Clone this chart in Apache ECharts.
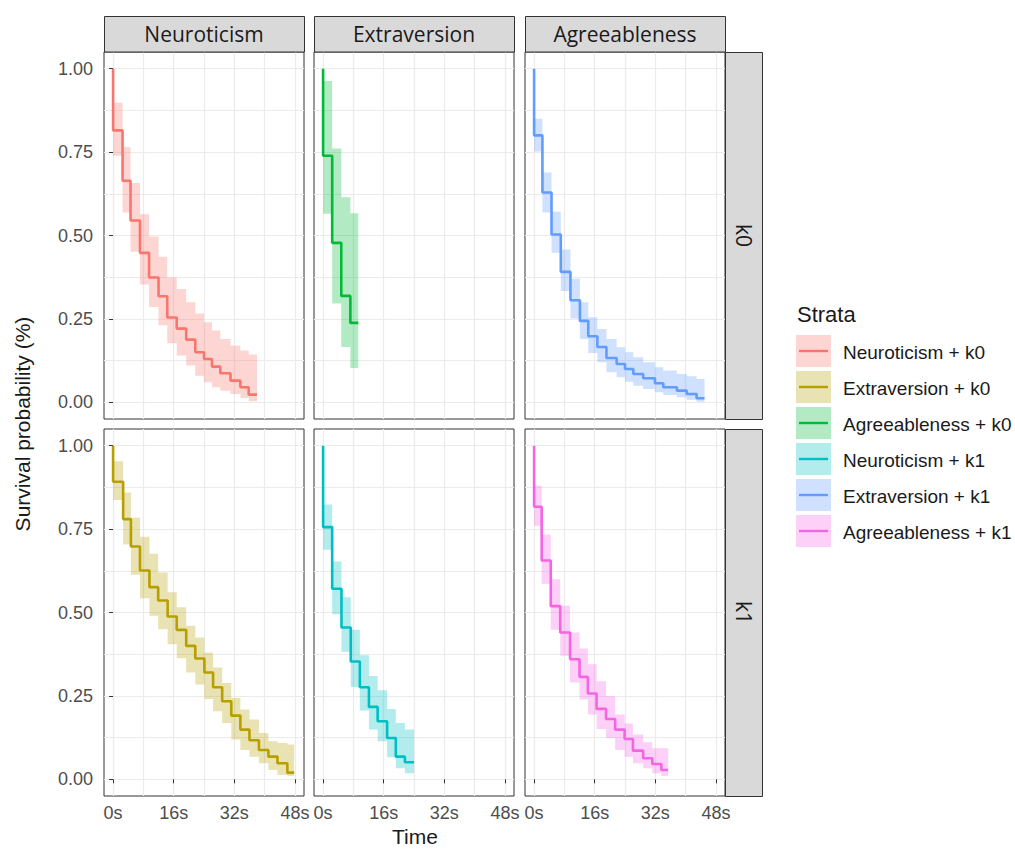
<!DOCTYPE html>
<html><head><meta charset="utf-8">
<script src="https://cdn.jsdelivr.net/npm/echarts@6/dist/echarts.min.js"></script>
<style>html,body{margin:0;padding:0;background:#fff}#c{width:1015px;height:850px}</style>
</head><body><div id="c"></div>
<script>
// ---------- data ----------
const traits = ['Neuroticism', 'Extraversion', 'Agreeableness'];
const groups = ['k0', 'k1'];
const strataLabels = ['Neuroticism + k0', 'Extraversion + k0', 'Agreeableness + k0',
                      'Neuroticism + k1', 'Extraversion + k1', 'Agreeableness + k1'];
const strataColors = ['#F8766D', '#B79F00', '#00BA38', '#00BFC4', '#619CFF', '#F564E3'];
const xTickValues = [0, 16, 32, 48];
const xMinorValues = [8, 24, 40];
const yTickValues = [0, 0.25, 0.5, 0.75, 1];
const yMinorValues = [0.125, 0.375, 0.625, 0.875];

// panel Neuroticism / k0
const nk0Time  = [0, 2.5, 4.6, 7.1, 9.5, 12, 14.3, 16.8, 19.3, 21.7, 24, 26.1, 28.3, 31, 33.6, 35.8, 38];
const nk0Surv  = [0.815, 0.664, 0.545, 0.448, 0.374, 0.318, 0.254, 0.221, 0.188, 0.150, 0.130, 0.107, 0.087, 0.065, 0.045, 0.023];
const nk0Upper = [0.898, 0.765, 0.657, 0.564, 0.497, 0.436, 0.374, 0.34, 0.30, 0.266, 0.24, 0.215, 0.19, 0.17, 0.155, 0.143];
const nk0Lower = [0.739, 0.569, 0.451, 0.353, 0.286, 0.231, 0.177, 0.14, 0.11, 0.08, 0.06, 0.045, 0.035, 0.025, 0.013, 0.003];
// panel Extraversion / k0
const ek0Time  = [0, 2.4, 4.8, 7.2, 9.3];
const ek0Surv  = [0.739, 0.478, 0.319, 0.238];
const ek0Upper = [0.963, 0.761, 0.615, 0.567];
const ek0Lower = [0.565, 0.296, 0.166, 0.103];
// panel Agreeableness / k0
const ak0Time  = [0, 2.2, 4.6, 7.05, 9.6, 12.1, 14.3, 16.7, 19.1, 21.8, 24, 26.2, 28.8, 31.9, 34.1, 37.7, 40.3, 42.9, 45];
const ak0Surv  = [0.80, 0.629, 0.503, 0.391, 0.306, 0.244, 0.198, 0.166, 0.133, 0.115, 0.10, 0.085, 0.072, 0.057, 0.045, 0.035, 0.025, 0.012];
const ak0Upper = [0.85, 0.689, 0.571, 0.458, 0.37, 0.30, 0.255, 0.22, 0.19, 0.165, 0.15, 0.135, 0.12, 0.105, 0.095, 0.085, 0.078, 0.07];
const ak0Lower = [0.752, 0.569, 0.448, 0.334, 0.251, 0.19, 0.148, 0.12, 0.09, 0.075, 0.062, 0.05, 0.04, 0.03, 0.022, 0.015, 0.008, 0.002];
// panel Neuroticism / k1
const nk1Time  = [0, 2.65, 4.7, 7.1, 9.6, 11.9, 14.4, 16.8, 19.3, 21.7, 24.1, 26.4, 28.8, 31.2, 33.6, 36, 38.5, 41, 43.4, 46, 47.8];
const nk1Surv  = [0.892, 0.780, 0.698, 0.626, 0.576, 0.536, 0.488, 0.448, 0.40, 0.362, 0.320, 0.276, 0.234, 0.191, 0.149, 0.117, 0.088, 0.068, 0.048, 0.02];
const nk1Upper = [0.953, 0.86, 0.784, 0.727, 0.676, 0.62, 0.561, 0.516, 0.46, 0.425, 0.38, 0.335, 0.289, 0.244, 0.209, 0.179, 0.139, 0.114, 0.109, 0.104];
const nk1Lower = [0.837, 0.704, 0.613, 0.543, 0.49, 0.45, 0.405, 0.363, 0.32, 0.284, 0.241, 0.204, 0.169, 0.119, 0.088, 0.068, 0.048, 0.028, 0.013, 0.01];
// panel Extraversion / k1
const ek1Time  = [0, 2.4, 4.85, 7.3, 9.7, 12.1, 14.4, 16.9, 19.2, 21.6, 24];
const ek1Surv  = [0.756, 0.571, 0.455, 0.353, 0.276, 0.217, 0.174, 0.124, 0.068, 0.051];
const ek1Upper = [0.824, 0.653, 0.546, 0.448, 0.372, 0.31, 0.267, 0.211, 0.169, 0.149];
const ek1Lower = [0.688, 0.495, 0.382, 0.277, 0.206, 0.149, 0.114, 0.066, 0.033, 0.018];
// panel Agreeableness / k1
const ak1Time  = [0, 2.0, 4.4, 6.9, 9.5, 12, 14.2, 16.5, 19, 21.4, 23.9, 26.1, 28.8, 31.2, 33.6, 35.4];
const ak1Surv  = [0.817, 0.656, 0.519, 0.44, 0.36, 0.307, 0.257, 0.211, 0.181, 0.149, 0.121, 0.086, 0.063, 0.046, 0.028];
const ak1Upper = [0.88, 0.734, 0.6, 0.52, 0.44, 0.392, 0.345, 0.294, 0.249, 0.194, 0.167, 0.134, 0.111, 0.093, 0.093];
const ak1Lower = [0.76, 0.586, 0.448, 0.37, 0.29, 0.239, 0.194, 0.151, 0.124, 0.088, 0.068, 0.048, 0.033, 0.018, 0.01];

// ---------- layout ----------
const panels = [
  {row: 0, col: 0, color: 0, t: nk0Time, s: nk0Surv, u: nk0Upper, l: nk0Lower},
  {row: 0, col: 1, color: 2, t: ek0Time, s: ek0Surv, u: ek0Upper, l: ek0Lower},
  {row: 0, col: 2, color: 4, t: ak0Time, s: ak0Surv, u: ak0Upper, l: ak0Lower},
  {row: 1, col: 0, color: 1, t: nk1Time, s: nk1Surv, u: nk1Upper, l: nk1Lower},
  {row: 1, col: 1, color: 3, t: ek1Time, s: ek1Surv, u: ek1Upper, l: ek1Lower},
  {row: 1, col: 2, color: 5, t: ak1Time, s: ak1Surv, u: ak1Upper, l: ak1Lower}
];
const colLeft = [104, 314, 525];
const colW = 200;
const rowTop = [52, 429];
const rowH = 367;
const FONT = '"Liberation Sans", Arial, sans-serif';

function hexA(hex, a) {
  const n = parseInt(hex.slice(1), 16);
  return 'rgba(' + ((n >> 16) & 255) + ',' + ((n >> 8) & 255) + ',' + (n & 255) + ',' + a + ')';
}

const grids = [], xAxes = [], yAxes = [], series = [];
const splitStyle = {show: true, lineStyle: {color: '#EBEBEB', width: 1.2}};

panels.forEach((p, k) => {
  grids.push({left: colLeft[p.col], top: rowTop[p.row], width: colW, height: rowH,
    show: true, borderColor: '#333333', borderWidth: 1, backgroundColor: '#ffffff'});
  const gi = k;
  const xi = xAxes.length;
  xAxes.push({gridIndex: gi, type: 'value', min: -2.4, max: 50.4, position: 'bottom',
    axisLine: {show: false},
    axisTick: {show: p.row === 1, customValues: xTickValues, length: 4, lineStyle: {color: '#333333', width: 1}},
    axisLabel: {show: p.row === 1, customValues: xTickValues, formatter: v => v + 's', margin: 8,
      color: '#4D4D4D', fontSize: 18, fontFamily: FONT},
    splitLine: splitStyle});
  xAxes.push({gridIndex: gi, type: 'value', min: -2.4, max: 50.4, position: 'top',
    axisLine: {show: false}, axisTick: {show: false, customValues: xMinorValues},
    axisLabel: {show: false, customValues: xMinorValues}, splitLine: splitStyle});
  const yi = yAxes.length;
  yAxes.push({gridIndex: gi, type: 'value', min: -0.05, max: 1.05, position: 'left',
    axisLine: {show: false},
    axisTick: {show: p.col === 0, customValues: yTickValues, length: 4, lineStyle: {color: '#333333', width: 1}},
    axisLabel: {show: p.col === 0, customValues: yTickValues, formatter: v => v.toFixed(2), margin: 11,
      color: '#4D4D4D', fontSize: 18, fontFamily: FONT},
    splitLine: splitStyle});
  yAxes.push({gridIndex: gi, type: 'value', min: -0.05, max: 1.05, position: 'right',
    axisLine: {show: false}, axisTick: {show: false, customValues: yMinorValues},
    axisLabel: {show: false, customValues: yMinorValues}, splitLine: splitStyle});

  const col = strataColors[p.color];
  const n = p.s.length;
  const intervals = [];
  for (let i = 0; i < n; i++) intervals.push([p.t[i], p.t[i + 1], p.l[i], p.u[i]]);
  series.push({
    type: 'custom', name: strataLabels[p.color], xAxisIndex: xi, yAxisIndex: yi,
    data: intervals, encode: {x: [0, 1], y: [2, 3]}, silent: true, z: 2,
    renderItem: function (params, api) {
      if (params.dataIndex !== 0) return null;
      const pts = [];
      for (let i = 0; i < intervals.length; i++) {
        pts.push(api.coord([intervals[i][0], intervals[i][3]]));
        pts.push(api.coord([intervals[i][1], intervals[i][3]]));
      }
      for (let i = intervals.length - 1; i >= 0; i--) {
        pts.push(api.coord([intervals[i][1], intervals[i][2]]));
        pts.push(api.coord([intervals[i][0], intervals[i][2]]));
      }
      return {type: 'polygon', shape: {points: pts}, style: {fill: hexA(col, 0.3), stroke: 'none'}};
    }
  });
  const lineData = [[p.t[0], 1]];
  for (let i = 0; i < n; i++) lineData.push([p.t[i], p.s[i]]);
  lineData.push([p.t[n], p.s[n - 1]]);
  series.push({
    type: 'line', name: strataLabels[p.color], xAxisIndex: xi, yAxisIndex: yi,
    data: lineData, step: 'end', symbol: 'none', z: 3,
    lineStyle: {color: col, width: 2.6}, itemStyle: {color: col}
  });
});

// ---------- strips, titles, legend ----------
const graphics = [];
traits.forEach((t, c) => {
  graphics.push({type: 'rect', shape: {x: colLeft[c] + 0.5, y: 16.5, width: colW, height: 35.5},
    style: {fill: '#D9D9D9', stroke: '#333333', lineWidth: 1}, z: 10});
  graphics.push({type: 'text', x: colLeft[c] + colW / 2, y: 34,
    style: {text: t, fill: '#1A1A1A', font: '21px "Open Sans", sans-serif', align: 'center', verticalAlign: 'middle'}, z: 11});
});
groups.forEach((g, r) => {
  graphics.push({type: 'rect', shape: {x: 725.5, y: rowTop[r] + 0.5, width: 37, height: rowH},
    style: {fill: '#D9D9D9', stroke: '#333333', lineWidth: 1}, z: 10});
  graphics.push({type: 'text', x: 744, y: rowTop[r] + rowH / 2, rotation: -Math.PI / 2,
    style: {text: g, fill: '#1A1A1A', font: '21px "Open Sans", sans-serif', align: 'center', verticalAlign: 'middle'}, z: 11});
});
graphics.push({type: 'text', x: 22, y: 424, rotation: Math.PI / 2,
  style: {text: 'Survival probability (%)', fill: '#1A1A1A', font: '21px ' + FONT, align: 'center', verticalAlign: 'middle'}});
graphics.push({type: 'text', x: 415, y: 836,
  style: {text: 'Time', fill: '#1A1A1A', font: '21px ' + FONT, align: 'center', verticalAlign: 'middle'}});
graphics.push({type: 'text', x: 797, y: 314,
  style: {text: 'Strata', fill: '#1A1A1A', font: '22px ' + FONT, align: 'left', verticalAlign: 'middle'}});
strataLabels.forEach((lab, i) => {
  const y0 = 335 + 36 * i;
  graphics.push({type: 'rect', shape: {x: 796, y: y0, width: 35, height: 32},
    style: {fill: hexA(strataColors[i], 0.3), stroke: 'none'}});
  graphics.push({type: 'line', shape: {x1: 799, y1: y0 + 16, x2: 828, y2: y0 + 16},
    style: {stroke: strataColors[i], lineWidth: 2.4}});
  graphics.push({type: 'text', x: 843, y: y0 + 17,
    style: {text: lab, fill: '#1A1A1A', font: '19px ' + FONT, align: 'left', verticalAlign: 'middle'}});
});

const chart = echarts.init(document.getElementById('c'), null, {renderer: 'svg', width: 1015, height: 850});
chart.setOption({
  animation: false,
  backgroundColor: '#ffffff',
  grid: grids, xAxis: xAxes, yAxis: yAxes, series: series,
  graphic: graphics
});
</script></body></html>
